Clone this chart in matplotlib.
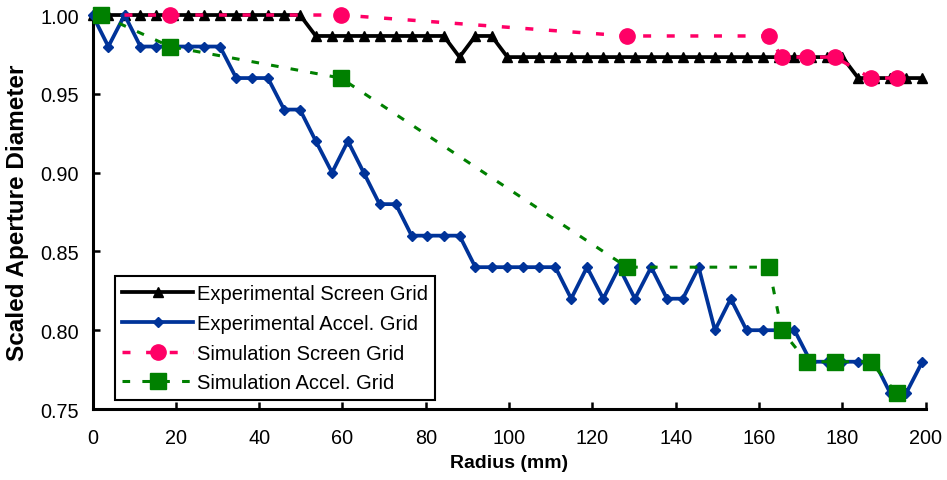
import matplotlib
matplotlib.use("Agg")
import matplotlib.pyplot as plt

plt.rcParams['font.family'] = ['Liberation Sans', 'DejaVu Sans']

# Experimental measurements, one per aperture along the grid radius (mm)
exp_radius = [0.0, 3.8, 7.7, 11.5, 15.3, 19.2, 23.0, 26.8, 30.6, 34.5,
              38.3, 42.1, 46.0, 49.8, 53.6, 57.5, 61.3, 65.1, 68.9, 72.8,
              76.6, 80.4, 84.3, 88.1, 91.9, 95.8, 99.6, 103.4, 107.2, 111.1,
              114.9, 118.7, 122.6, 126.4, 130.2, 134.1, 137.9, 141.7, 145.5, 149.4,
              153.2, 157.0, 160.9, 164.7, 168.5, 172.4, 176.2, 180.0, 183.8, 187.7,
              191.5, 195.3, 199.2]

exp_screen = [1.0, 1.0, 1.0, 1.0, 1.0, 1.0, 1.0, 1.0, 1.0, 1.0,
              1.0, 1.0, 1.0, 1.0, 0.9867, 0.9867, 0.9867, 0.9867, 0.9867, 0.9867,
              0.9867, 0.9867, 0.9867, 0.9733, 0.9867, 0.9867, 0.9733, 0.9733, 0.9733, 0.9733,
              0.9733, 0.9733, 0.9733, 0.9733, 0.9733, 0.9733, 0.9733, 0.9733, 0.9733, 0.9733,
              0.9733, 0.9733, 0.9733, 0.9733, 0.9733, 0.9733, 0.9733, 0.9733, 0.96, 0.96,
              0.96, 0.96, 0.96]

exp_accel = [1.0, 0.98, 1.0, 0.98, 0.98, 0.98, 0.98, 0.98, 0.98, 0.96,
             0.96, 0.96, 0.94, 0.94, 0.92, 0.90, 0.92, 0.90, 0.88, 0.88,
             0.86, 0.86, 0.86, 0.86, 0.84, 0.84, 0.84, 0.84, 0.84, 0.84,
             0.82, 0.84, 0.82, 0.84, 0.82, 0.84, 0.82, 0.82, 0.84, 0.80,
             0.82, 0.80, 0.80, 0.80, 0.80, 0.78, 0.78, 0.78, 0.78, 0.78,
             0.76, 0.76, 0.78]

# Simulation results
sim_radius = [2.0, 18.6, 59.6, 128.3, 162.4, 165.4, 171.5, 178.3, 186.8, 193.0]
sim_screen = [1.0, 1.0, 1.0, 0.9867, 0.9867, 0.9733, 0.9733, 0.9733, 0.96, 0.96]
sim_accel = [1.0, 0.98, 0.96, 0.84, 0.84, 0.80, 0.78, 0.78, 0.78, 0.76]

x_ticks = [0, 20, 40, 60, 80, 100, 120, 140, 160, 180, 200]
y_ticks = [0.75, 0.80, 0.85, 0.90, 0.95, 1.00]

fig = plt.figure(figsize=(9.47, 4.81), dpi=100)
ax = fig.add_axes([0.0977, 0.1476, 0.8798, 0.8191])

ax.plot(exp_radius, exp_screen, color='black', lw=2.7, marker='^', ms=7,
        label='Experimental Screen Grid', clip_on=False, zorder=3)
ax.plot(exp_radius, exp_accel, color='#003399', lw=2.7, marker='D', ms=5.5,
        label='Experimental Accel. Grid', clip_on=False, zorder=3)
ax.plot(sim_radius, sim_screen, color='#FF0066', lw=2.5, ls=(0, (2.3, 4.5)),
        marker='o', ms=11, label='Simulation Screen Grid', clip_on=False, zorder=4)
ax.plot(sim_radius, sim_accel, color='#008000', lw=2.2, ls=(0, (2.5, 4.0)),
        marker='s', ms=11, label='Simulation Accel. Grid', clip_on=False, zorder=4)

ax.set_xlim(0, 200)
ax.set_ylim(0.75, 1.00)
ax.set_xticks(x_ticks)
ax.set_yticks(y_ticks)
ax.set_yticklabels([f'{v:.2f}' for v in y_ticks])

for side in ('top', 'right'):
    ax.spines[side].set_visible(False)
for side in ('left', 'bottom'):
    ax.spines[side].set_linewidth(2.2)

ax.tick_params(axis='both', direction='in', length=5, width=1.8, labelsize=14.3)
ax.tick_params(axis='x', pad=14)
ax.tick_params(axis='y', pad=10)

ax.set_xlabel('Radius (mm)', fontsize=14, fontweight='bold', labelpad=5)
ax.set_ylabel('Scaled Aperture Diameter', fontsize=17.5, fontweight='bold', labelpad=8)

leg = ax.legend(loc='lower left', bbox_to_anchor=(0.027, 0.023), borderaxespad=0,
                fontsize=14.5, frameon=True, fancybox=False, handlelength=3.5,
                handletextpad=0.2, labelspacing=0.54, borderpad=0.37)
leg.get_frame().set_edgecolor('black')
leg.get_frame().set_linewidth(1.5)
leg.get_frame().set_alpha(1)

fig.savefig('out.png', dpi=100)
